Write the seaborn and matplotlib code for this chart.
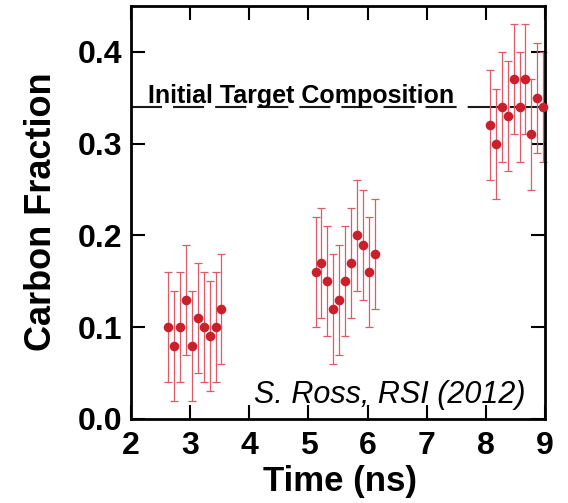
import numpy as np
import pandas as pd
import matplotlib
matplotlib.use("Agg")
import matplotlib.pyplot as plt
import seaborn as sns

# ---- data ----
time_g1 = [2.63, 2.73, 2.83, 2.93, 3.03, 3.13, 3.23, 3.33, 3.43, 3.53]
frac_g1 = [0.10, 0.08, 0.10, 0.13, 0.08, 0.11, 0.10, 0.09, 0.10, 0.12]
err_g1 = [0.06, 0.06, 0.06, 0.06, 0.06, 0.06, 0.06, 0.06, 0.06, 0.06]

time_g2 = [5.12, 5.22, 5.32, 5.42, 5.52, 5.62, 5.72, 5.82, 5.92, 6.02, 6.12]
frac_g2 = [0.16, 0.17, 0.15, 0.12, 0.13, 0.15, 0.17, 0.20, 0.19, 0.16, 0.18]
err_g2 = [0.06, 0.06, 0.06, 0.06, 0.06, 0.06, 0.06, 0.06, 0.06, 0.06, 0.06]

time_g3 = [8.07, 8.17, 8.27, 8.37, 8.47, 8.57, 8.67, 8.77, 8.87, 8.97]
frac_g3 = [0.32, 0.30, 0.34, 0.33, 0.37, 0.34, 0.37, 0.31, 0.35, 0.34]
err_g3 = [0.06, 0.06, 0.06, 0.06, 0.06, 0.06, 0.06, 0.06, 0.06, 0.06]

target_composition = 0.34
x_ticks = [2, 3, 4, 5, 6, 7, 8, 9]
y_ticks = [0.0, 0.1, 0.2, 0.3, 0.4]
y_tick_labels = ["0.0", "0.1", "0.2", "0.3", "0.4"]

df = pd.DataFrame({
    "time": time_g1 + time_g2 + time_g3,
    "frac": frac_g1 + frac_g2 + frac_g3,
    "err": err_g1 + err_g2 + err_g3,
})

sns.set_theme(style="ticks")
plt.rcParams["font.family"] = ["Liberation Sans", "DejaVu Sans"]

fig = plt.figure(figsize=(5.68, 5.03), dpi=100)
ax = fig.add_axes([0.2306, 0.167, 0.7289, 0.8211])

marker_color = "#C9202B"
err_color = "#DE5A66"

ax.errorbar(df["time"], df["frac"], yerr=df["err"], fmt="none",
            ecolor=err_color, elinewidth=0.9, capsize=3.1, capthick=0.9,
            zorder=2, clip_on=False)
sns.scatterplot(data=df, x="time", y="frac", ax=ax, color=marker_color,
                s=48, edgecolor=marker_color, linewidth=0, zorder=3,
                clip_on=False, legend=False)

ax.axhline(target_composition, color="#1a1a1a", lw=1.5,
           linestyle=(0, (14.9, 5.3)), zorder=1)
ax.text(2.29, 0.344, "Initial Target Composition", fontsize=18,
        fontweight="bold", ha="left", va="baseline", color="black")
ax.text(8.67, 0.0174, "S. Ross, RSI (2012)", fontsize=22,
        fontstyle="italic", ha="right", va="baseline", color="black",
        family=["Liberation Sans", "DejaVu Sans"])

ax.set_xlim(2, 9)
ax.set_ylim(0, 0.45)
ax.set_xticks(x_ticks)
ax.set_xticklabels([str(t) for t in x_ticks])
ax.set_yticks(y_ticks)
ax.set_yticklabels(y_tick_labels)

for lab in ax.get_xticklabels() + ax.get_yticklabels():
    lab.set_fontweight("bold")
    lab.set_fontsize(23)
    lab.set_color("black")

ax.tick_params(axis="both", which="major", direction="in", length=10,
               width=1.5, color="black", top=True, right=True)
ax.tick_params(axis="x", pad=8.5)
ax.tick_params(axis="y", pad=6)

for sp in ax.spines.values():
    sp.set_linewidth(2)
    sp.set_color("black")
    sp.set_visible(True)

ax.set_xlabel("Time (ns)", fontsize=25, fontweight="bold", color="black")
ax.set_ylabel("Carbon Fraction", fontsize=26, fontweight="bold", color="black")
ax.xaxis.set_label_coords(0.505, -0.112)
ax.yaxis.set_label_coords(-0.175, 0.501)

fig.savefig("out.png", dpi=100)
